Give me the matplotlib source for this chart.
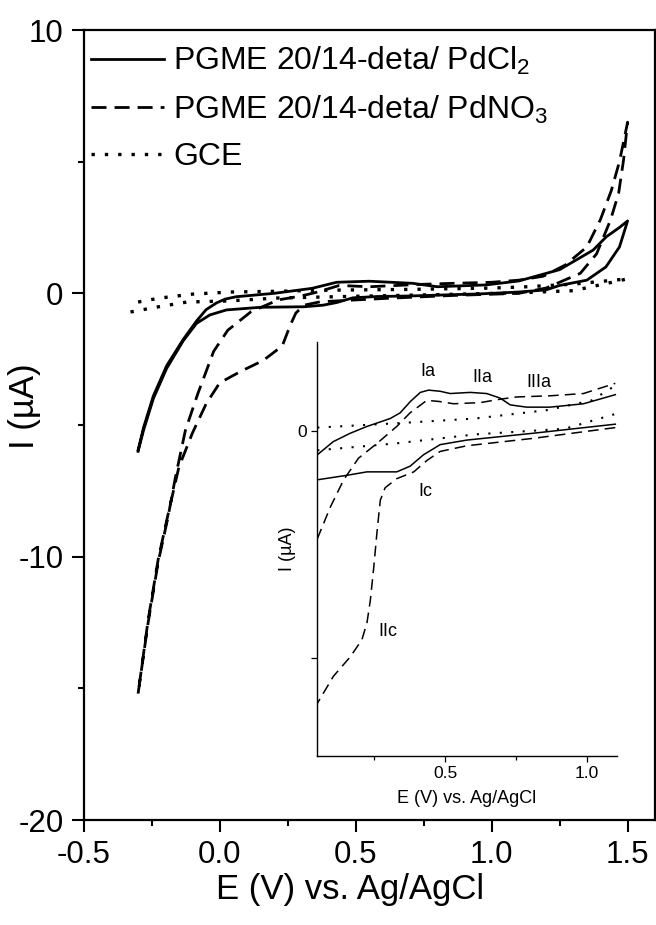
import matplotlib
matplotlib.use("Agg")
import matplotlib.pyplot as plt
from matplotlib.ticker import MultipleLocator, FixedLocator
from matplotlib.lines import Line2D

plt.rcParams['font.family'] = ['Liberation Sans', 'DejaVu Sans']
plt.rcParams['axes.unicode_minus'] = False

# ---- main CVs, E in V, I in uA ----
# PGME / PdCl2 : forward sweep then return sweep
cl_fwd_E = [-0.30, -0.28, -0.244, -0.195, -0.134, -0.085, -0.05, -0.011, 0.02, 0.06, 0.20,
            0.34, 0.43, 0.55, 0.71, 0.80, 0.98, 1.10, 1.25, 1.373, 1.422, 1.47, 1.50]
cl_fwd_I = [-5.95, -5.1, -3.9, -2.75, -1.75, -1.05, -0.62, -0.36, -0.22, -0.13, 0.0,
            0.19, 0.42, 0.46, 0.38, 0.25, 0.32, 0.47, 0.9, 1.64, 2.15, 2.5, 2.75]
cl_rev_E = [1.50, 1.47, 1.42, 1.35, 1.25, 1.20, 1.10, 0.96, 0.86, 0.70, 0.58, 0.49,
            0.43, 0.38, 0.31, 0.15, 0.025, -0.036, -0.085, -0.134, -0.195, -0.244, -0.28, -0.30]
cl_rev_I = [2.75, 1.76, 1.0, 0.5, 0.3, 0.13, 0.05, -0.02, -0.05, -0.1, -0.12, -0.17,
            -0.35, -0.45, -0.51, -0.53, -0.63, -0.82, -1.14, -1.8, -2.85, -4.0, -5.2, -6.0]

# PGME / PdNO3
no_fwd_E = [-0.30, -0.263, -0.226, -0.19, -0.163, -0.126, -0.08, -0.022, 0.03, 0.115,
            0.215, 0.30, 0.36, 0.44, 0.55, 0.736, 0.858, 1.0, 1.10, 1.19, 1.27, 1.35,
            1.40, 1.44, 1.47, 1.50]
no_fwd_I = [-15.2, -12.5, -10.2, -8.5, -7.0, -5.2, -3.8, -2.2, -1.4, -0.7,
            -0.25, -0.1, 0.05, 0.3, 0.25, 0.34, 0.38, 0.42, 0.5, 0.65, 1.07, 1.76,
            2.8, 3.9, 5.0, 6.5]
no_rev_E = [1.50, 1.485, 1.467, 1.437, 1.386, 1.326, 1.20, 1.10, 0.86, 0.614, 0.37,
            0.31, 0.28, 0.26, 0.23, 0.16, 0.08, 0.0, -0.05, -0.10, -0.15, -0.19,
            -0.226, -0.263, -0.30]
no_rev_I = [6.5, 5.06, 3.8, 2.78, 1.5, 0.76, 0.2, 0.0, -0.08, -0.19, -0.32,
            -0.45, -0.75, -1.2, -2.0, -2.55, -2.95, -3.4, -4.2, -5.3, -6.6, -8.4,
            -10.1, -12.4, -15.2]

# bare GCE
gce_fwd_E = [-0.30, -0.22, -0.10, 0.04, 0.17, 0.405, 0.70, 1.0, 1.13, 1.30, 1.45, 1.50]
gce_fwd_I = [-0.33, -0.18, -0.03, 0.05, 0.07, 0.12, 0.15, 0.2, 0.25, 0.35, 0.5, 0.55]
gce_rev_E = [1.50, 1.30, 1.10, 0.80, 0.417, 0.21, 0.027, -0.12, -0.23, -0.35]
gce_rev_I = [0.55, 0.1, 0.02, -0.05, -0.13, -0.18, -0.29, -0.33, -0.52, -0.75]

# ---- inset (expanded 0.05-1.1 V window) ----
in_cl_up_E = [0.05, 0.106, 0.166, 0.225, 0.307, 0.342, 0.378, 0.413, 0.442, 0.483, 0.518,
              0.589, 0.647, 0.694, 0.73, 0.788, 0.87, 0.988, 1.10]
in_cl_up_I = [-0.21, -0.094, -0.02, 0.04, 0.11, 0.16, 0.26, 0.34, 0.36, 0.35, 0.33,
              0.34, 0.33, 0.29, 0.23, 0.21, 0.21, 0.24, 0.32]
in_cl_dn_E = [0.05, 0.155, 0.225, 0.33, 0.377, 0.424, 0.483, 0.577, 0.81, 1.10]
in_cl_dn_I = [-0.43, -0.39, -0.36, -0.36, -0.31, -0.21, -0.12, -0.08, -0.02, 0.06]
in_no_up_E = [0.05, 0.096, 0.143, 0.195, 0.26, 0.33, 0.377, 0.436, 0.48, 0.53, 0.624,
              0.694, 0.753, 0.87, 0.988, 1.10]
in_no_up_I = [-0.95, -0.67, -0.43, -0.24, -0.11, 0.04, 0.16, 0.27, 0.26, 0.24, 0.25,
              0.28, 0.30, 0.31, 0.33, 0.42]
in_no_dn_E = [1.10, 0.81, 0.577, 0.483, 0.436, 0.39, 0.33, 0.289, 0.272, 0.26, 0.249,
              0.237, 0.225, 0.207, 0.166, 0.107, 0.05]
in_no_dn_I = [0.03, -0.065, -0.13, -0.18, -0.26, -0.36, -0.42, -0.50, -0.61, -0.90, -1.2,
              -1.49, -1.69, -1.84, -1.99, -2.16, -2.40]
in_gce_up_E = [0.05, 0.342, 0.606, 0.863, 1.017, 1.10]
in_gce_up_I = [0.03, 0.07, 0.11, 0.185, 0.27, 0.40]
in_gce_dn_E = [0.05, 0.325, 0.606, 0.923, 1.10]
in_gce_dn_I = [-0.17, -0.11, -0.03, 0.02, 0.15]

peak_labels = ['Ia', 'IIa', 'IIIa', 'Ic', 'IIc']
peak_E = [0.44, 0.63, 0.83, 0.43, 0.30]
peak_I = [0.52, 0.47, 0.43, -0.53, -1.77]

labels = ['PGME 20/14-deta/ PdCl$_\\mathregular{2}$',
          'PGME 20/14-deta/ PdNO$_\\mathregular{3}$',
          'GCE']

W, H = 656, 925
fig = plt.figure(figsize=(W / 100, H / 100), dpi=100)
ax = fig.add_axes([83.7 / W, 1 - 820 / H, 571.1 / W, 790 / H])

solid = dict(color='black', lw=2.0, ls='-')
dashed = dict(color='black', lw=2.0, ls=(0, (5.4, 2.9)))
dotted = dict(color='black', lw=2.4, ls=(0, (1, 3)))

ax.plot(cl_fwd_E + cl_rev_E, cl_fwd_I + cl_rev_I, **solid)
ax.plot(no_fwd_E + no_rev_E, no_fwd_I + no_rev_I, **dashed)
ax.plot(gce_fwd_E + gce_rev_E, gce_fwd_I + gce_rev_I, **dotted)

ax.set_xlim(-0.5, 1.6)
ax.set_ylim(-20, 10)
ax.xaxis.set_major_locator(FixedLocator([-0.5, 0.0, 0.5, 1.0, 1.5]))
ax.xaxis.set_minor_locator(MultipleLocator(0.25))
ax.yaxis.set_major_locator(MultipleLocator(10))
ax.yaxis.set_minor_locator(MultipleLocator(5))
ax.set_xticklabels(['-0.5', '0.0', '0.5', '1.0', '1.5'])
ax.tick_params(which='both', direction='out', width=1.5, labelsize=22.5, pad=6)
ax.tick_params(which='major', length=8.5)
ax.tick_params(which='minor', length=4.5)
for s in ax.spines.values():
    s.set_linewidth(1.6)

ax.set_xlabel('E (V) vs. Ag/AgCl', fontsize=25, va='center')
ax.xaxis.set_label_coords((350 - 83.7) / 571.1, -(889 - 820) / 790)
ax.set_ylabel('I (\u00b5A)', fontsize=25)
ax.yaxis.set_label_coords(-0.075, (820 - 406) / 790)

handles = [Line2D([], [], **solid), Line2D([], [], **dashed), Line2D([], [], **dotted)]
ax.legend(handles, labels, loc='upper left', bbox_to_anchor=(0.0128, 0.981),
          frameon=False, fontsize=23, borderpad=0, borderaxespad=0,
          handlelength=2.3, handletextpad=0.28, labelspacing=0.5)

# inset
ins = fig.add_axes([317 / W, 1 - 756 / H, 300 / W, 414 / H])
ins.patch.set_alpha(0)
ins.plot(in_cl_up_E, in_cl_up_I, color='black', lw=1.1)
ins.plot(in_cl_dn_E, in_cl_dn_I, color='black', lw=1.1)
ins.plot(in_no_up_E, in_no_up_I, color='black', lw=1.1, ls=(0, (7, 4)))
ins.plot(in_no_dn_E, in_no_dn_I, color='black', lw=1.1, ls=(0, (7, 4)))
ins.plot(in_gce_up_E, in_gce_up_I, color='black', lw=1.5, ls=(0, (1, 4.5)))
ins.plot(in_gce_dn_E, in_gce_dn_I, color='black', lw=1.5, ls=(0, (1, 4.5)))
for t, e, i in zip(peak_labels, peak_E, peak_I):
    ins.text(e, i, t, fontsize=13, ha='center', va='center')

ins.set_xlim(0.049, 1.106)
ins.set_ylim(-2.863, 0.784)
ins.spines['top'].set_visible(False)
ins.spines['right'].set_visible(False)
for s in ('left', 'bottom'):
    ins.spines[s].set_linewidth(1.0)
ins.xaxis.set_major_locator(FixedLocator([0.5, 1.0]))
ins.xaxis.set_minor_locator(FixedLocator([0.25, 0.75]))
ins.yaxis.set_major_locator(FixedLocator([-2, 0]))
ins.set_yticklabels(['', '0'])
ins.tick_params(which='both', direction='out', width=0.9, labelsize=12.5, pad=3)
ins.tick_params(which='major', length=4.5)
ins.tick_params(which='minor', length=3)
ins.set_xlabel('E (V) vs. Ag/AgCl', fontsize=13, labelpad=6)
ins.set_ylabel('I (\u00b5A)', fontsize=13, labelpad=1)

fig.savefig('out.png', dpi=100)
